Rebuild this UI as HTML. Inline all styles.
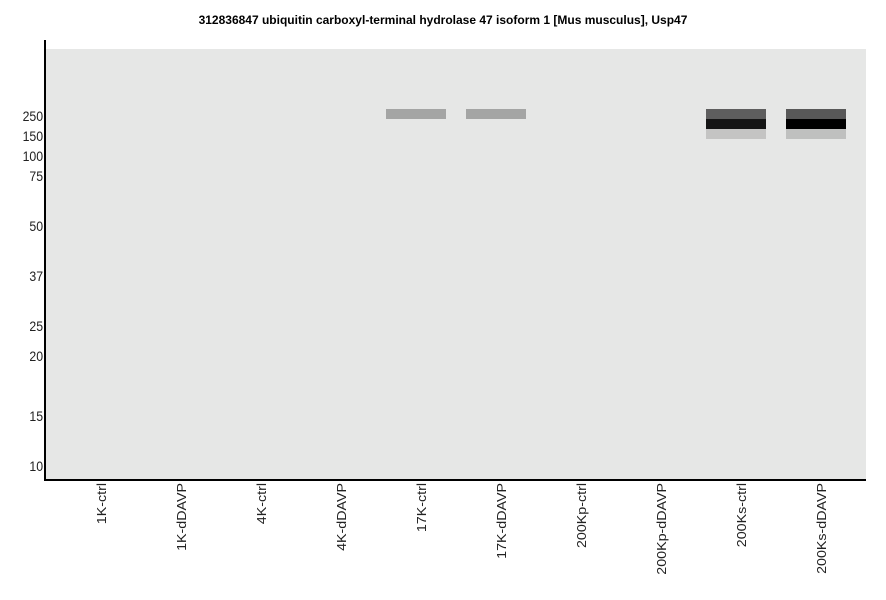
<!DOCTYPE html>
<html><head><meta charset="utf-8"><style>
body{margin:0;width:886px;height:595px;background:#fff;overflow:hidden;font-family:"Liberation Sans",sans-serif}
svg text{font-family:"Liberation Sans",sans-serif}
</style></head><body>
<svg width="886" height="595" xmlns="http://www.w3.org/2000/svg">
<text x="443" y="24" font-size="12" font-weight="bold" text-anchor="middle">312836847 ubiquitin carboxyl-terminal hydrolase 47 isoform 1 [Mus musculus], Usp47</text>
<rect x="46" y="49" width="820" height="430" fill="#e6e7e6"/>
<rect x="44" y="40" width="2" height="441" fill="#000"/>
<rect x="44" y="479" width="822" height="2" fill="#000"/>
<g font-size="14" text-anchor="end" fill="#222" transform="scale(0.88,1)">
<text x="49" y="121">250</text><text x="49" y="141">150</text><text x="49" y="161">100</text><text x="49" y="181">75</text>
<text x="49" y="231">50</text><text x="49" y="281">37</text><text x="49" y="331">25</text><text x="49" y="361">20</text>
<text x="49" y="421">15</text><text x="49" y="471">10</text>
</g>
<rect x="386" y="109" width="60" height="10" fill="#a4a5a4"/>
<rect x="466" y="109" width="60" height="10" fill="#a4a5a4"/>
<rect x="706" y="109" width="60" height="10" fill="#5e5e5e"/>
<rect x="706" y="119" width="60" height="10" fill="#151515"/>
<rect x="706" y="129" width="60" height="10" fill="#c4c4c3"/>
<rect x="786" y="109" width="60" height="10" fill="#585858"/>
<rect x="786" y="119" width="60" height="10" fill="#000"/>
<rect x="786" y="129" width="60" height="10" fill="#bfc0bf"/>
<g font-size="14" text-anchor="end" fill="#222">
<text transform="translate(106,483) rotate(-90) scale(1.02,0.95)">1K-ctrl</text>
<text transform="translate(186,483) rotate(-90) scale(1.02,0.95)">1K-dDAVP</text>
<text transform="translate(266,483) rotate(-90) scale(1.02,0.95)">4K-ctrl</text>
<text transform="translate(346,483) rotate(-90) scale(1.02,0.95)">4K-dDAVP</text>
<text transform="translate(426,483) rotate(-90) scale(1.02,0.95)">17K-ctrl</text>
<text transform="translate(506,483) rotate(-90) scale(1.02,0.95)">17K-dDAVP</text>
<text transform="translate(586,483) rotate(-90) scale(1.02,0.95)">200Kp-ctrl</text>
<text transform="translate(666,483) rotate(-90) scale(1.02,0.95)">200Kp-dDAVP</text>
<text transform="translate(746,483) rotate(-90) scale(1.02,0.95)">200Ks-ctrl</text>
<text transform="translate(826,483) rotate(-90) scale(1.02,0.95)">200Ks-dDAVP</text>
</g>
</svg>
</body></html>
